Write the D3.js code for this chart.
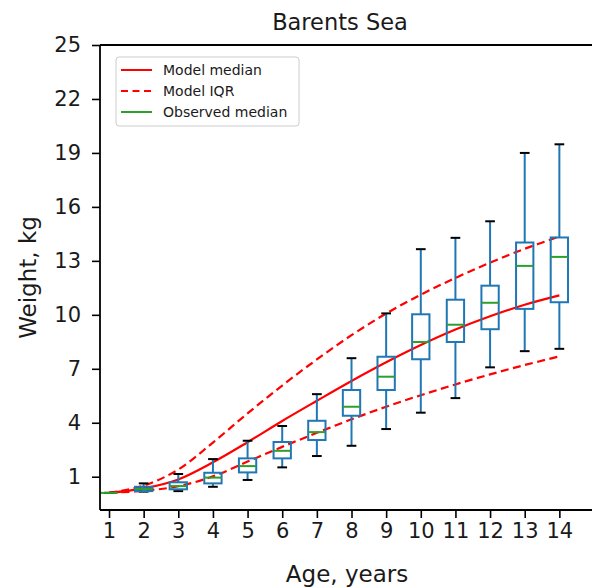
<!DOCTYPE html>
<html>
<head>
<meta charset="utf-8">
<script src="https://cdn.jsdelivr.net/npm/d3@7"></script>
<style>
html,body{margin:0;padding:0;background:#fff;}
svg{display:block;font-family:"DejaVu Sans",sans-serif;}
</style>
</head>
<body>
<svg id="chart" width="592" height="588"></svg>
<script>
// ---- data ----
const ages = [1,2,3,4,5,6,7,8,9,10,11,12,13,14];
const modelMedian = [0.1,0.35,0.85,1.8,2.92,4.1,5.22,6.32,7.36,8.32,9.18,9.92,10.56,11.08];
const modelUpper  = [0.1,0.5,1.4,2.9,4.52,6.07,7.52,8.87,10.07,11.12,12.05,12.9,13.67,14.35];
const modelLower  = [0.1,0.22,0.47,1.02,1.84,2.66,3.44,4.19,4.89,5.53,6.13,6.69,7.21,7.69];
const whiskerLow  = [0.1,0.17,0.2,0.44,0.82,1.52,2.15,2.72,3.65,4.56,5.37,7.08,7.98,8.11];
const q1          = [0.1,0.2,0.3,0.63,1.24,2.02,3.04,4.39,5.82,7.53,8.49,9.2,10.33,10.7];
const obsMedian   = [0.1,0.32,0.48,0.95,1.59,2.44,3.48,4.89,6.56,8.49,9.45,10.67,12.72,13.22];
const q3          = [0.1,0.44,0.69,1.22,2.02,2.93,4.11,5.82,7.67,10.03,10.84,11.62,14.02,14.3];
const whiskerHigh = [0.1,0.63,1.15,1.98,3.0,3.82,5.59,7.59,10.08,13.65,14.28,15.2,19.0,19.48];
const yTicks = [1,4,7,10,13,16,19,22,25];
const xTicks = ages;
const legendLabels = ["Model median","Model IQR","Observed median"];
const title = "Barents Sea";
const xLabel = "Age, years";
const yLabel = "Weight, kg";

// ---- layout ----
const svg = d3.select("#chart");
const L = 100, R = 594, T = 45, B = 510;
const x = d3.scaleLinear().domain([0.74, 15.0]).range([L, R]);
const y = d3.scaleLinear().domain([-0.85, 25]).range([B, T]);

const RED = "#ff0000", BLUE = "#1f77b4", GREEN = "#2ca02c";

// model lines
const line = d3.line().x((d,i)=>x(ages[i])).y(d=>y(d)).curve(d3.curveCatmullRom.alpha(0.5));
const g = svg.append("g");
g.append("path").attr("d", line(modelUpper)).attr("fill","none").attr("stroke",RED)
  .attr("stroke-width",2.2).attr("stroke-dasharray","8,4.5");
g.append("path").attr("d", line(modelLower)).attr("fill","none").attr("stroke",RED)
  .attr("stroke-width",2.2).attr("stroke-dasharray","8,4.5");
g.append("path").attr("d", line(modelMedian)).attr("fill","none").attr("stroke",RED)
  .attr("stroke-width",2.2);

// boxplots
const bw = 0.5, cw = 0.28;
const boxes = ages.map((a,i)=>({a, lo:whiskerLow[i], q1:q1[i], med:obsMedian[i], q3:q3[i], hi:whiskerHigh[i]}));
const bg = svg.append("g").selectAll("g").data(boxes).join("g");
bg.append("line").attr("x1",d=>x(d.a)).attr("x2",d=>x(d.a)).attr("y1",d=>y(d.lo)).attr("y2",d=>y(d.q1))
  .attr("stroke",BLUE).attr("stroke-width",2);
bg.append("line").attr("x1",d=>x(d.a)).attr("x2",d=>x(d.a)).attr("y1",d=>y(d.q3)).attr("y2",d=>y(d.hi))
  .attr("stroke",BLUE).attr("stroke-width",2);
bg.append("line").attr("x1",d=>x(d.a-cw/2)).attr("x2",d=>x(d.a+cw/2)).attr("y1",d=>y(d.lo)).attr("y2",d=>y(d.lo))
  .attr("stroke","#000").attr("stroke-width",2);
bg.append("line").attr("x1",d=>x(d.a-cw/2)).attr("x2",d=>x(d.a+cw/2)).attr("y1",d=>y(d.hi)).attr("y2",d=>y(d.hi))
  .attr("stroke","#000").attr("stroke-width",2);
bg.append("rect").attr("x",d=>x(d.a-bw/2)).attr("width",d=>x(d.a+bw/2)-x(d.a-bw/2))
  .attr("y",d=>y(d.q3)).attr("height",d=>y(d.q1)-y(d.q3))
  .attr("fill","none").attr("stroke",BLUE).attr("stroke-width",2);
bg.append("line").attr("x1",d=>x(d.a-bw/2)).attr("x2",d=>x(d.a+bw/2)).attr("y1",d=>y(d.med)).attr("y2",d=>y(d.med))
  .attr("stroke",GREEN).attr("stroke-width",2);

// axes
const xAxis = d3.axisBottom(x).tickValues(xTicks).tickSize(8).tickPadding(5).tickFormat(d3.format("d"));
const yAxis = d3.axisLeft(y).tickValues(yTicks).tickSize(8).tickPadding(11).tickFormat(d3.format("d"));
const gx = svg.append("g").attr("transform",`translate(0,${B})`).call(xAxis);
const gy = svg.append("g").attr("transform",`translate(${L},0)`).call(yAxis);
[gx,gy].forEach(ax=>{
  ax.select(".domain").remove();
  ax.selectAll(".tick line").attr("stroke","#000").attr("stroke-width",1.6);
  ax.selectAll(".tick text").attr("fill","#1a1a1a").style("font-size","21px").style("font-family","DejaVu Sans");
});
// spines (right spine lies outside the picture)
svg.append("line").attr("x1",L).attr("x2",592).attr("y1",T).attr("y2",T).attr("stroke","#000").attr("stroke-width",1.8);
svg.append("line").attr("x1",L).attr("x2",592).attr("y1",B).attr("y2",B).attr("stroke","#000").attr("stroke-width",1.8);
svg.append("line").attr("x1",L).attr("x2",L).attr("y1",T).attr("y2",B).attr("stroke","#000").attr("stroke-width",1.8);

// labels
svg.append("text").attr("x",340).attr("y",30).attr("text-anchor","middle")
  .style("font-size","22.5px").attr("fill","#1a1a1a").text(title);
svg.append("text").attr("x",(L+R)/2).attr("y",582).attr("text-anchor","middle")
  .style("font-size","23px").attr("fill","#1a1a1a").text(xLabel);
svg.append("text").attr("transform",`translate(36,${(T+B)/2}) rotate(-90)`).attr("text-anchor","middle")
  .style("font-size","23px").attr("fill","#1a1a1a").text(yLabel);

// legend
const lg = svg.append("g");
lg.append("rect").attr("x",116).attr("y",57).attr("width",183).attr("height",69).attr("rx",3)
  .attr("fill","#fff").attr("fill-opacity",0.8).attr("stroke","#cccccc").attr("stroke-width",1);
const legendStyles = [{c:RED,dash:null},{c:RED,dash:"7,4.5"},{c:GREEN,dash:null}];
legendLabels.forEach((lab,i)=>{
  const yy = 70 + i*21;
  lg.append("line").attr("x1",121).attr("x2",152).attr("y1",yy).attr("y2",yy)
    .attr("stroke",legendStyles[i].c).attr("stroke-width",2)
    .attr("stroke-dasharray",legendStyles[i].dash);
  lg.append("text").attr("x",163).attr("y",yy+5).style("font-size","14px").attr("fill","#1a1a1a").text(lab);
});
</script>
</body>
</html>
